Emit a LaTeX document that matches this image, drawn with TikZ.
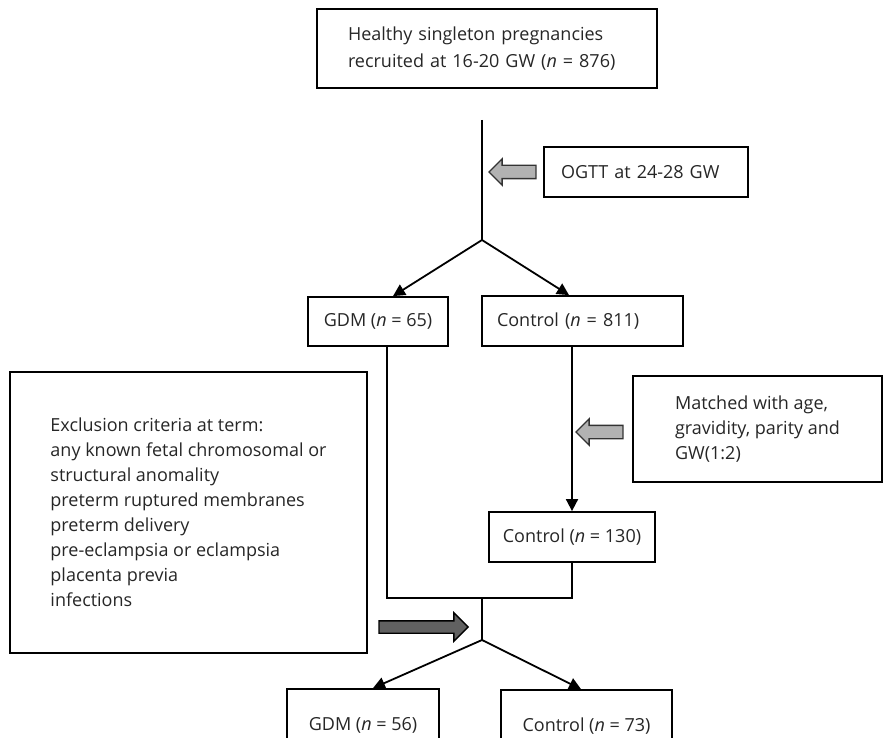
\documentclass[tikz,border=0pt]{standalone}
\usepackage{fontspec}
\setmainfont{Open Sans}
\usetikzlibrary{arrows.meta,shapes.arrows}

\tikzset{
  box/.style={draw, line width=1.8pt, inner sep=0pt, text=black!85,
    font=\fontsize{18}{25}\selectfont},
  line/.style={line width=1.8pt},
  link/.style={line, -{Triangle[length=12pt,width=12pt]}},
  leftarrow/.style={single arrow, shape border rotate=180, draw=black!80,
    line width=1.4pt, fill=black!30, inner sep=6pt, single arrow head extend=6.5pt,
    minimum height=47pt},
  rightarrow/.style={single arrow, draw=black, line width=1.4pt, fill=black!62,
    inner sep=5.5pt, single arrow head extend=8pt, minimum height=89pt}
}

\begin{document}
\begin{tikzpicture}[x=1pt,y=-1pt]
  \useasboundingbox (0,0) rectangle (883,738);

  % boxes
  \node [box, minimum width=340pt, minimum height=79pt, text width=278pt, align=left,
    font=\fontsize{18}{27}\selectfont]
    (recruit) at (487,48.5) {Healthy singleton pregnancies\\recruited at 16-20 GW (\textit{n} = 876)};
  \node [box, minimum width=204pt, minimum height=50pt, text width=170pt, align=left]
    (ogtt) at (646,172) {OGTT at 24-28 GW};
  \node [box, minimum width=140pt, minimum height=49pt]
    (gdm1) at (378,321.5) {GDM (\textit{n} = 65)};
  \node [box, minimum width=201pt, minimum height=50pt, text width=171pt, align=left]
    (ctrl1) at (582.5,321) {Control (\textit{n} = 811)};
  \node [box, minimum width=249pt, minimum height=106pt, align=left]
    (matched) at (757.5,429) {Matched with age,\\gravidity, parity and\\GW(1:2)};
  \node [box, minimum width=166pt, minimum height=50pt]
    (ctrl2) at (572,537) {Control (\textit{n} = 130)};
  \node [box, minimum width=357pt, minimum height=281pt, align=left]
    (excl) at (188.5,512.5) {Exclusion criteria at term:\\any known fetal chromosomal or\\structural anomality\\preterm ruptured membranes\\preterm delivery\\pre-eclampsia or eclampsia\\placenta previa\\infections};
  \node [box, minimum width=152pt, minimum height=72pt]
    (gdm2) at (363,725) {GDM (\textit{n} = 56)};
  \node [box, minimum width=171pt, minimum height=72pt]
    (ctrl3) at (586.5,726) {Control (\textit{n} = 73)};

  % free ends and branch points
  \coordinate (start) at (482,120);
  \coordinate (split1) at (482,240);
  \coordinate (merge) at (482,598);
  \coordinate (split2) at (482,640);

  % block arrows
  \node [leftarrow, anchor=tip] (ogttarrow) at (488,172) {};
  \node [leftarrow, anchor=tip] (matcharrow) at (575,432) {};
  \node [rightarrow, anchor=tip] (exclarrow) at (469,627) {};

  % connectors
  \draw [line] (start) -- (split1);
  \draw [link] (split1) -- ([xshift=15pt]gdm1.north);
  \draw [link] (split1) -- ([xshift=-13.5pt]ctrl1.north);
  \draw [link] (ctrl2.north |- ctrl1.south) -- (ctrl2.north);
  \draw [line] ([xshift=9pt]gdm1.south) |- (merge);
  \draw [line] (ctrl2.south) |- (merge) -- (split2);
  \draw [link] (split2) -- ([xshift=10pt]gdm2.north);
  \draw [link] (split2) -- ([xshift=-5.5pt]ctrl3.north);
\end{tikzpicture}
\end{document}
